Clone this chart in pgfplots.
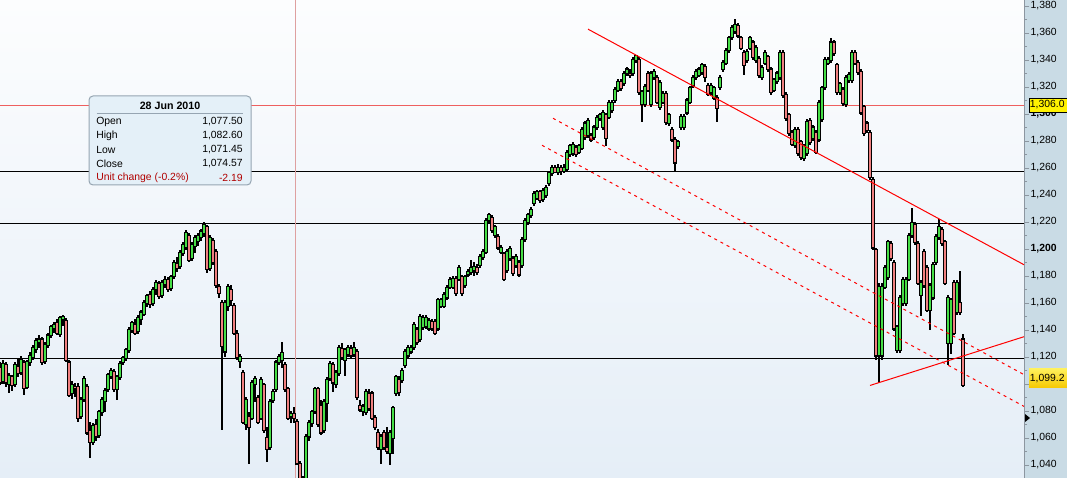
\documentclass[border=0pt]{standalone}
\usepackage{pgfplots}
\usepackage{pgfplotstable}
\pgfplotsset{compat=1.18}
\usepackage{fontspec}
\setmainfont{Liberation Sans}

\definecolor{bgtop}{RGB}{252,253,254}
\definecolor{bgbot}{RGB}{229,238,247}
\definecolor{panel}{RGB}{201,219,229}
\definecolor{axisgray}{RGB}{140,150,160}
\definecolor{upgreen}{RGB}{70,222,70}
\definecolor{downred}{RGB}{240,128,128}
\definecolor{levelred}{RGB}{238,95,95}
\definecolor{crossred}{RGB}{222,160,160}
\definecolor{tipfill}{RGB}{228,240,248}
\definecolor{tipline}{RGB}{150,165,178}
\definecolor{unitred}{RGB}{176,0,0}

% daily candles, x = pixel column of the original chart
\pgfplotstableread{
x o h l c
0 1112 1116 1099 1101
3 1102 1118 1100 1115
6 1114 1116 1098 1101
9 1100 1108 1093 1106
12 1105 1107 1095 1099
15 1100 1116 1098 1114
18 1113 1119 1105 1108
21 1109 1121 1107 1118
24 1116 1118 1092 1097
27 1098 1118 1096 1116
30 1116 1124 1113 1121
33 1120 1129 1118 1127
36 1126 1134 1123 1132
39 1131 1136 1127 1133
42 1133 1135 1114 1116
45 1117 1131 1115 1129
48 1129 1138 1127 1136
51 1136 1144 1134 1142
54 1141 1146 1138 1144
57 1145 1148 1136 1138
60 1137 1150 1135 1149
63 1148 1151 1143 1150
66 1147 1149 1116 1118
69 1116 1118 1090 1092
72 1093 1102 1089 1099
75 1098 1101 1090 1097
78 1098 1101 1072 1075
81 1076 1090 1074 1088
84 1089 1106 1087 1104
87 1098 1100 1062 1064
90 1065 1072 1045 1057
93 1057 1071 1055 1069
96 1070 1074 1058 1061
99 1062 1081 1060 1079
102 1079 1090 1076 1088
105 1087 1097 1079 1095
108 1096 1108 1094 1107
111 1106 1112 1104 1110
114 1109 1111 1094 1096
117 1096 1107 1088 1105
120 1105 1117 1103 1115
123 1116 1121 1114 1119
126 1119 1127 1117 1125
129 1125 1142 1123 1140
132 1140 1147 1138 1145
135 1144 1148 1136 1138
138 1139 1151 1137 1149
141 1148 1155 1144 1153
144 1152 1162 1150 1160
147 1160 1167 1157 1165
150 1166 1169 1156 1159
153 1160 1172 1158 1170
156 1170 1177 1166 1175
159 1174 1176 1163 1165
162 1166 1177 1164 1175
165 1174 1180 1171 1177
168 1177 1179 1168 1170
171 1171 1181 1169 1179
174 1180 1192 1178 1190
177 1189 1194 1183 1186
180 1187 1199 1185 1197
183 1197 1205 1195 1203
186 1201 1214 1199 1212
189 1210 1212 1190 1192
192 1193 1205 1191 1203
195 1202 1210 1197 1208
198 1206 1212 1202 1210
201 1209 1215 1206 1213
204 1212 1220 1209 1218
207 1216 1218 1182 1185
210 1186 1210 1184 1208
213 1206 1208 1188 1190
216 1198 1200 1171 1173
219 1172 1174 1164 1167
222 1160 1162 1066 1128
225 1124 1162 1120 1160
228 1158 1174 1154 1172
231 1170 1173 1158 1162
234 1158 1160 1136 1138
237 1137 1140 1118 1120
240 1117 1122 1112 1120
243 1108 1110 1070 1072
246 1070 1090 1066 1088
249 1076 1079 1041 1068
252 1075 1103 1073 1101
255 1100 1106 1087 1104
258 1090 1092 1070 1072
261 1075 1105 1073 1103
264 1099 1101 1064 1066
267 1060 1068 1042 1052
270 1053 1089 1051 1087
273 1088 1096 1086 1094
276 1096 1118 1094 1116
279 1116 1122 1114 1120
282 1118 1131 1112 1123
285 1114 1116 1094 1096
288 1096 1098 1073 1075
291 1076 1080 1071 1078
294 1077.50 1082.60 1071.45 1074.57
297 1072 1074 1040 1041
300 1041 1043 1011 1022
303 1022 1032 1010 1028
306 1029 1063 1027 1061
309 1061 1073 1058 1071
312 1071 1081 1068 1079
315 1080 1098 1078 1096
318 1096 1098 1068 1070
321 1084 1088 1062 1064
324 1066 1089 1064 1087
327 1086 1105 1072 1103
330 1104 1117 1102 1115
333 1114 1116 1094 1101
336 1100 1110 1097 1108
339 1108 1129 1106 1127
342 1126 1130 1118 1120
345 1118 1127 1106 1125
348 1122 1129 1120 1127
351 1126 1129 1119 1121
354 1122 1131 1120 1127
357 1124 1126 1088 1090
360 1084 1088 1079 1081
363 1080 1085 1076 1083
366 1079 1096 1077 1094
369 1093 1096 1080 1082
372 1093 1095 1073 1075
375 1075 1077 1066 1068
378 1064 1067 1051 1053
381 1052 1063 1041 1061
384 1064 1066 1051 1053
387 1053 1068 1048 1050
390 1049 1066 1040 1064
393 1060 1084 1048 1082
396 1093 1107 1091 1105
399 1103 1106 1091 1094
402 1103 1112 1101 1110
405 1114 1126 1112 1124
408 1121 1129 1119 1127
411 1124 1129 1122 1127
414 1127 1146 1125 1144
417 1140 1142 1129 1131
420 1133 1152 1131 1150
423 1142 1151 1140 1149
426 1143 1151 1141 1149
429 1141 1149 1139 1147
432 1146 1148 1139 1141
435 1146 1148 1136 1138
438 1141 1164 1139 1162
441 1158 1164 1156 1162
444 1158 1168 1156 1166
447 1164 1173 1162 1171
450 1172 1179 1170 1177
453 1172 1180 1170 1178
456 1178 1180 1165 1167
459 1178 1188 1176 1186
462 1179 1181 1165 1167
465 1173 1181 1171 1179
468 1181 1185 1179 1183
471 1183 1192 1181 1186
474 1184 1190 1180 1187
477 1186 1189 1181 1183
480 1188 1196 1186 1194
483 1194 1200 1192 1198
486 1198 1223 1196 1221
489 1221 1227 1219 1225
492 1223 1225 1212 1214
495 1210 1218 1208 1216
498 1209 1211 1199 1201
501 1198 1203 1196 1201
504 1196 1198 1176 1178
507 1184 1200 1182 1198
510 1193 1202 1191 1200
513 1193 1195 1180 1182
516 1188 1196 1186 1194
519 1190 1192 1179 1181
522 1188 1209 1186 1207
525 1207 1223 1205 1221
528 1220 1227 1218 1225
531 1225 1231 1223 1229
534 1234 1243 1232 1241
537 1238 1244 1236 1242
540 1242 1244 1234 1236
543 1237 1245 1235 1243
546 1240 1247 1238 1245
549 1249 1258 1247 1256
552 1256 1262 1254 1260
555 1260 1262 1256 1257
558 1257 1263 1255 1260
561 1260 1262 1255 1258
564 1258 1263 1256 1260
567 1259 1273 1257 1271
570 1270 1278 1268 1276
573 1271 1279 1269 1277
576 1275 1277 1268 1270
579 1272 1278 1270 1276
582 1275 1290 1273 1288
585 1283 1295 1281 1293
588 1284 1297 1282 1295
591 1284 1286 1279 1281
594 1283 1292 1281 1290
597 1290 1299 1288 1297
600 1297 1301 1295 1299
603 1290 1303 1288 1301
606 1299 1301 1276 1282
609 1298 1310 1296 1308
612 1303 1310 1301 1308
615 1310 1320 1308 1318
618 1318 1326 1316 1324
621 1324 1326 1317 1319
624 1323 1332 1321 1330
627 1330 1335 1328 1333
630 1330 1333 1327 1329
633 1330 1342 1328 1340
636 1340 1344 1338 1343
639 1340 1342 1314 1316
642 1307 1318 1294 1316
645 1307 1322 1305 1320
648 1330 1332 1316 1318
651 1307 1332 1305 1330
654 1327 1333 1325 1331
657 1327 1329 1307 1309
660 1305 1325 1303 1323
663 1309 1317 1307 1315
666 1315 1317 1292 1294
669 1293 1301 1291 1299
672 1288 1290 1279 1281
675 1281 1283 1257 1264
678 1276 1281 1274 1279
681 1290 1300 1288 1298
684 1290 1300 1288 1298
687 1301 1312 1299 1310
690 1309 1321 1307 1319
693 1321 1329 1319 1327
696 1327 1333 1325 1331
699 1329 1335 1327 1333
702 1331 1338 1329 1336
705 1335 1337 1324 1327
708 1321 1323 1313 1315
711 1316 1323 1314 1321
714 1312 1321 1310 1319
717 1312 1314 1294 1304
720 1320 1329 1318 1327
723 1333 1340 1331 1338
726 1338 1349 1336 1347
729 1347 1358 1345 1356
732 1357 1366 1355 1364
735 1361 1370 1359 1366
738 1365 1367 1356 1358
741 1356 1358 1347 1349
744 1345 1347 1329 1336
747 1340 1348 1338 1346
750 1349 1358 1347 1356
753 1353 1355 1340 1342
756 1340 1351 1338 1349
759 1341 1343 1327 1329
762 1327 1336 1325 1334
765 1338 1347 1336 1345
768 1342 1344 1331 1333
771 1333 1335 1314 1316
774 1318 1327 1316 1325
777 1324 1332 1322 1330
780 1327 1347 1325 1345
783 1345 1347 1312 1314
786 1314 1316 1295 1297
789 1299 1301 1284 1286
792 1286 1288 1276 1278
795 1277 1290 1275 1288
798 1288 1290 1269 1271
801 1279 1281 1266 1268
804 1267 1278 1265 1276
807 1271 1296 1269 1294
810 1295 1297 1277 1279
813 1282 1292 1280 1290
816 1286 1288 1270 1272
819 1281 1310 1279 1308
822 1296 1321 1294 1319
825 1320 1342 1318 1340
828 1338 1342 1336 1340
831 1340 1356 1338 1353
834 1353 1355 1343 1345
837 1336 1338 1314 1316
840 1316 1324 1314 1322
843 1318 1320 1306 1308
846 1307 1329 1305 1327
849 1325 1331 1323 1329
852 1325 1347 1323 1345
855 1345 1347 1336 1338
858 1338 1340 1329 1331
861 1331 1333 1299 1301
864 1305 1307 1284 1286
867 1293 1295 1286 1288
870 1286 1288 1251 1253
873 1251 1253 1199 1201
876 1199 1201 1118 1121
879 1121 1175 1101 1172
882 1121 1175 1118 1172
885 1172 1188 1170 1186
888 1179 1207 1177 1205
891 1204 1206 1191 1193
894 1190 1192 1139 1141
897 1125 1144 1123 1142
900 1125 1166 1123 1164
903 1160 1179 1158 1177
906 1160 1179 1158 1177
909 1178 1212 1176 1210
912 1210 1230 1208 1219
915 1218 1220 1203 1205
918 1204 1206 1173 1175
921 1166 1177 1150 1175
924 1198 1200 1171 1173
927 1186 1188 1153 1155
930 1155 1175 1140 1173
933 1164 1190 1162 1188
936 1190 1211 1188 1209
939 1209 1222 1207 1216
942 1214 1216 1202 1204
945 1205 1207 1173 1175
948 1130 1166 1114 1164
951 1130 1164 1122 1162
954 1175 1177 1136 1138
957 1153 1177 1151 1175
960 1160 1184 1151 1153
963 1133 1137 1098 1099.2
}\candles

\begin{document}
\begin{tikzpicture}[x=1pt,y=1pt]
\useasboundingbox (0,0) rectangle (800.25,358.5);
\fill[panel] (768,0) rectangle (800.25,358.5);
\begin{axis}[
  at={(0,0)}, anchor=south west,
  scale only axis, width=768pt, height=358.5pt,
  xmin=0, xmax=1024, ymin=1030.35, ymax=1384.4,
  axis x line=none,
  axis y line*=right,
  y axis line style={draw=axisgray, line width=0.75pt},
  axis background/.style={top color=bgtop, bottom color=bgbot},
  ytick={1040,1060,...,1380},
  minor ytick={1050,1070,...,1370},
  yticklabels={{1,040},{1,060},{1,080},{},{1,120},{1,140},{1,160},{1,180},
    {\textbf{1,200}},{1,220},{1,240},{1,260},{1,280},{\textbf{1,300}},{1,320},{1,340},{1,360},{1,380}},
  tick align=outside,
  major tick length=3.75pt, minor tick length=2.25pt,
  every tick/.style={axisgray, line width=0.6pt},
  yticklabel style={font=\fontsize{7.8}{9}\selectfont, anchor=west, inner sep=0pt, xshift=1pt},
  candle/.style={draw=none, mark=none, forget plot,
    error bars/.cd, y dir=both, y explicit, error mark=none},
]
% support / resistance levels
\addplot[black, line width=0.75pt] coordinates {(0,1257) (1024,1257)};
\addplot[black, line width=0.75pt] coordinates {(0,1219.2) (1024,1219.2)};
\addplot[black, line width=0.75pt] coordinates {(0,1119.2) (1024,1119.2)};
\addplot[levelred, line width=0.75pt] coordinates {(0,1306) (1024,1306)};
\addplot[crossred, line width=0.75pt] coordinates {(295.5,1030.35) (295.5,1384.4)};

% wicks
\addplot[candle, error bar style={draw=black, line width=0.8pt}]
  table[x=x, y expr=(\thisrow{h}+\thisrow{l})/2, y error expr=(\thisrow{h}-\thisrow{l})/2] {\candles};
% body outlines
\addplot[candle, error bar style={draw=black, line width=2.85pt}]
  table[x=x, y expr=(\thisrow{o}+\thisrow{c})/2, y error expr=abs(\thisrow{c}-\thisrow{o})/2+0.7] {\candles};
% up bodies
\addplot[restrict expr to domain={\thisrow{c}-\thisrow{o}}{0:1000}, candle,
  error bar style={draw=upgreen, line width=1.0pt}]
  table[x=x, y expr=(\thisrow{o}+\thisrow{c})/2, y error expr=abs(\thisrow{c}-\thisrow{o})/2-0.1] {\candles};
% down bodies
\addplot[restrict expr to domain={\thisrow{c}-\thisrow{o}}{-1000:-0.001}, candle,
  error bar style={draw=downred, line width=1.0pt}]
  table[x=x, y expr=(\thisrow{o}+\thisrow{c})/2, y error expr=abs(\thisrow{c}-\thisrow{o})/2-0.1] {\candles};

% trend channel
\addplot[red, line width=0.75pt] coordinates {(588,1362.8) (1024,1188.3)};
\addplot[red, line width=0.75pt] coordinates {(870,1098.9) (1024,1135.0)};
\addplot[red, line width=0.75pt, dash pattern=on 2.25pt off 3pt] coordinates {(553,1296.8) (1024,1106.9)};
\addplot[red, line width=0.75pt, dash pattern=on 2.25pt off 3pt] coordinates {(542,1276.8) (1024,1083.4)};
\end{axis}

% price labels on the scale
\draw[black, line width=0.6pt, fill=yellow] (771.75,274.5) rectangle (800.25,285);
\node[anchor=west, inner sep=0pt, font=\fontsize{7.8}{9}\selectfont] at (772.2,279.75) {1,306.0};
\shade[top color={rgb,255:red,255;green,240;blue,90}, bottom color={rgb,255:red,245;green,200;blue,0}]
  (771.75,67.5) rectangle (800.25,81.75);
\node[anchor=west, inner sep=0pt, font=\fontsize{7.8}{9}\selectfont] at (772.2,74.6) {1,099.2};
\fill[black] (768.75,48) -- (768.75,42) -- (772.5,45) -- cycle;

% tooltip
\draw[tipline, line width=0.75pt, fill=tipfill, rounded corners=3pt] (66.75,219.75) rectangle (188.25,286.5);
\node[font=\bfseries\fontsize{8}{9}\selectfont] at (127.5,279) {28 Jun 2010};
\draw[tipline, line width=0.6pt] (72.5,273.75) -- (182,273.75);
\begin{scope}[every node/.style={inner sep=0pt, font=\fontsize{7.8}{9}\selectfont}]
\node[anchor=west] at (72,267) {Open};
\node[anchor=east] at (182.25,267) {1,077.50};
\node[anchor=west] at (72,256.5) {High};
\node[anchor=east] at (182.25,256.5) {1,082.60};
\node[anchor=west] at (72,246) {Low};
\node[anchor=east] at (182.25,246) {1,071.45};
\node[anchor=west] at (72,235.5) {Close};
\node[anchor=east] at (182.25,235.5) {1,074.57};
\node[anchor=west, text=unitred] at (72,225) {Unit change (-0.2\%)};
\node[anchor=east, text=unitred] at (182.25,225) {-2.19};
\end{scope}
\end{tikzpicture}
\end{document}
